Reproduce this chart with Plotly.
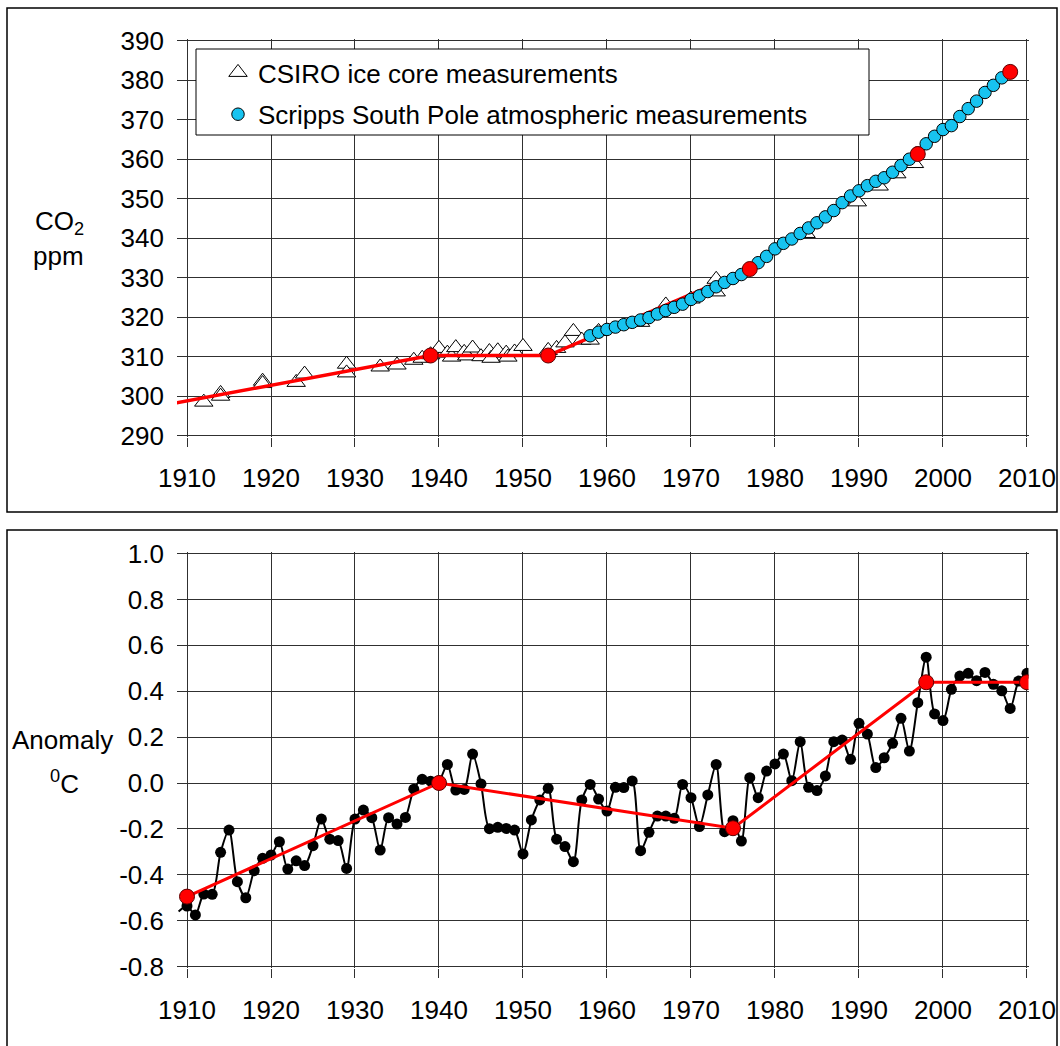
import plotly.graph_objects as go

# ---- CO2 panel data -------------------------------------------------------
# CSIRO Law Dome ice core CO2 (ppm)
ice_years = [1912, 1914, 1914, 1919, 1919, 1923, 1924, 1929, 1929, 1933,
             1935, 1937, 1938, 1939, 1940, 1941, 1941.5, 1942, 1943, 1943.3,
             1944, 1945, 1946, 1946.2, 1947, 1948, 1948.2, 1949, 1950, 1953,
             1954, 1955, 1956, 1957, 1958, 1959, 1964, 1967, 1970, 1973,
             1973, 1983.7, 1989.8, 1992.4, 1994.5, 1996.6]
ice_co2 = [298.5, 300.7, 300.0, 303.8, 303.2, 303.5, 305.6, 308.1, 305.9, 307.4,
           307.9, 309.1, 309.6, 310.5, 312.1, 310.9, 309.9, 312.3, 311.1, 310.2,
           312.2, 310.0, 311.3, 309.6, 311.5, 310.9, 309.9, 311.2, 312.6, 311.6,
           312.1, 313.5, 316.4, 314.2, 314.2, 316.4, 318.7, 323.1, 324.6, 329.6,
           326.4, 341.2, 349.2, 353.2, 356.3, 358.9]

# Scripps South Pole atmospheric CO2, annual means (ppm)
spo_years = list(range(1958, 2009))
spo_co2 = [315.3, 316.2, 316.9, 317.5, 318.1, 318.7, 319.3, 319.9, 320.8, 321.7,
           322.5, 323.3, 324.5, 325.4, 326.5, 327.7, 328.8, 329.8, 330.8, 332.2,
           333.8, 335.4, 337.3, 338.7, 339.8, 341.2, 342.6, 343.9, 345.4, 347.0,
           349.0, 350.7, 352.0, 353.3, 354.4, 355.3, 356.7, 358.4, 360.0, 361.6,
           363.9, 365.8, 367.5, 368.5, 370.8, 372.8, 374.7, 376.9, 378.7, 380.6,
           382.1]

# Piecewise trend through the CO2 record
co2_trend_years = [1908, 1939, 1953, 1977, 1997, 2008]
co2_trend_vals = [298.0, 310.3, 310.3, 332.2, 361.3, 382.1]

co2_ticks = list(range(290, 391, 10))

# ---- Temperature anomaly panel data ----------------------------------------
temp_years = list(range(1909, 2011))
temp_anom = [-0.56,
             -0.536, -0.575, -0.484, -0.485, -0.302, -0.205, -0.430, -0.500, -0.382, -0.328,
             -0.314, -0.256, -0.375, -0.339, -0.360, -0.273, -0.157, -0.245, -0.251, -0.372,
             -0.157, -0.118, -0.151, -0.292, -0.151, -0.179, -0.150, -0.027, 0.016, 0.008,
             0.010, 0.081, -0.031, -0.028, 0.126, -0.004, -0.199, -0.193, -0.198, -0.205,
             -0.309, -0.161, -0.074, -0.023, -0.245, -0.277, -0.343, -0.074, -0.006, -0.070,
             -0.122, -0.019, -0.020, 0.009, -0.295, -0.215, -0.144, -0.144, -0.154, -0.006,
             -0.064, -0.190, -0.052, 0.081, -0.212, -0.164, -0.253, 0.023, -0.064, 0.052,
             0.083, 0.126, 0.010, 0.180, -0.019, -0.033, 0.031, 0.180, 0.187, 0.103,
             0.260, 0.213, 0.067, 0.110, 0.173, 0.282, 0.139, 0.350, 0.548, 0.301,
             0.272, 0.408, 0.466, 0.478, 0.446, 0.482, 0.430, 0.402, 0.325, 0.444,
             0.478]

# Piecewise trend through the temperature record
temp_trend_years = [1910, 1940, 1975, 1998, 2010]
temp_trend_vals = [-0.495, 0.0, -0.197, 0.439, 0.439]

temp_ticks = [-0.8, -0.6, -0.4, -0.2, 0.0, 0.2, 0.4, 0.6, 0.8, 1.0]
temp_tick_text = ["-0.8", "-0.6", "-0.4", "-0.2", "0.0", "0.2", "0.4", "0.6", "0.8", "1.0"]

year_ticks = list(range(1910, 2011, 10))

# ---- Figure -----------------------------------------------------------------
W, H = 1060, 1046
FONT = "Liberation Sans, Arial, sans-serif"
GRID = "#303030"
RED = "#FF0000"
BLUE = "#17C3F0"

fig = go.Figure()

# CO2 panel
fig.add_trace(go.Scatter(
    x=ice_years, y=ice_co2, mode="markers", name="CSIRO ice core measurements",
    legendgroup="ice",
    marker=dict(symbol="triangle-up", size=16, color="white",
                line=dict(color="black", width=1)),
    xaxis="x", yaxis="y"))
fig.add_trace(go.Scatter(
    x=co2_trend_years, y=co2_trend_vals, mode="lines", showlegend=False,
    line=dict(color=RED, width=3.5), xaxis="x", yaxis="y"))
fig.add_trace(go.Scatter(
    x=spo_years, y=spo_co2, mode="markers",
    name="Scripps South Pole atmospheric measurements", legendgroup="spo",
    marker=dict(symbol="circle", size=12.5, color=BLUE,
                line=dict(color="black", width=1)),
    xaxis="x", yaxis="y"))
fig.add_trace(go.Scatter(
    x=co2_trend_years[1:], y=co2_trend_vals[1:], mode="markers", showlegend=False,
    marker=dict(symbol="circle", size=15, color=RED,
                line=dict(color="#600000", width=1)),
    xaxis="x", yaxis="y"))

# Temperature panel
fig.add_trace(go.Scatter(
    x=temp_years, y=temp_anom, mode="lines+markers", showlegend=False,
    line=dict(color="black", width=2, shape="spline", smoothing=0.8),
    marker=dict(size=[0] + [11] * (len(temp_years) - 1), color="black",
                opacity=1, line=dict(color="black", width=0)),
    xaxis="x2", yaxis="y2"))
fig.add_trace(go.Scatter(
    x=temp_trend_years, y=temp_trend_vals, mode="lines+markers", showlegend=False,
    line=dict(color=RED, width=3),
    marker=dict(size=15, color=RED, line=dict(color="#600000", width=1)),
    xaxis="x2", yaxis="y2"))

x_domain = [177 / W, 1028.5 / W]
x_range = [1908.81, 2010.18]
tick_font = dict(family=FONT, size=26, color="black")

xcommon = dict(
    range=x_range, domain=x_domain, tickvals=year_ticks,
    showgrid=True, gridcolor=GRID, gridwidth=1, zeroline=False, showline=False,
    ticks="outside", ticklen=9, tickcolor=GRID, tickwidth=1,
    ticklabelstandoff=9,
    tickfont=tick_font, fixedrange=True, automargin=False)
ycommon = dict(
    showgrid=True, gridcolor=GRID, gridwidth=1, zeroline=False, showline=False,
    ticks="", tickfont=tick_font, ticklabelstandoff=12, fixedrange=True,
    automargin=False)

fig.update_layout(
    width=W, height=H, autosize=False,
    margin=dict(l=0, r=0, t=0, b=0, pad=0, autoexpand=False),
    paper_bgcolor="white", plot_bgcolor="white",
    font=dict(family=FONT, size=26, color="black"),
    xaxis=dict(anchor="y", **xcommon),
    yaxis=dict(anchor="x", range=[289.6, 390.4],
               domain=[1 - 437.28 / H, 1 - 39.12 / H],
               tickvals=co2_ticks, **ycommon),
    xaxis2=dict(anchor="y2", **xcommon),
    yaxis2=dict(anchor="x2", range=[-0.808, 1.008],
                domain=[1 - 968.44 / H, 1 - 551.66 / H],
                tickvals=temp_ticks, ticktext=temp_tick_text, **ycommon),
    showlegend=True,
    legend=dict(x=218 / W, y=1 - 49 / H, xanchor="left", yanchor="top",
                bgcolor="rgba(0,0,0,0)", borderwidth=0,
                font=dict(family=FONT, size=26, color="black"),
                traceorder="grouped", tracegroupgap=5),
)

# Panel frames and legend box
shapes = [
    dict(type="rect", xref="paper", yref="paper",
         x0=7 / W, x1=1057 / W, y0=1 - 512 / H, y1=1 - 8 / H,
         line=dict(color="black", width=1.5), fillcolor="rgba(0,0,0,0)", layer="below"),
    dict(type="rect", xref="paper", yref="paper",
         x0=7 / W, x1=1057 / W, y0=-0.01, y1=1 - 530 / H,
         line=dict(color="black", width=1.5), fillcolor="rgba(0,0,0,0)", layer="below"),
    dict(type="rect", xref="paper", yref="paper",
         x0=196 / W, x1=869 / W, y0=1 - 135 / H, y1=1 - 49 / H,
         line=dict(color="black", width=1), fillcolor="white", layer="above"),
]
fig.update_layout(shapes=shapes)

# Axis titles
def label(text, px, py):
    return dict(text=text, x=px / W, y=1 - py / H, xref="paper", yref="paper",
                xanchor="center", yanchor="middle", showarrow=False,
                font=dict(family=FONT, size=26, color="black"))

fig.update_layout(annotations=[
    label("CO<sub>2</sub>", 59, 222),
    label("ppm", 58.5, 256),
    label("Anomaly", 62.5, 740),
    label("<sup>0</sup>C", 64.5, 782),
])

fig.write_html("out.html")
